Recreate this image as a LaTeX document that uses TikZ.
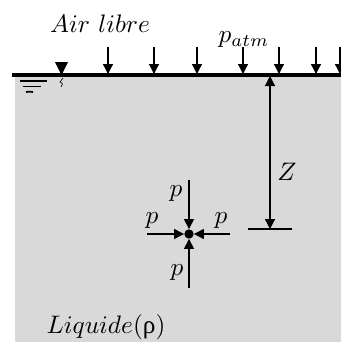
\documentclass[tikz,border=0pt]{standalone}
\usepackage{fontspec}
\newfontfamily\grk{Liberation Serif}
\usetikzlibrary{arrows.meta}
\definecolor{liq}{RGB}{217,217,217}
\tikzset{
  lbl/.style={inner sep=0pt,scale=1.9},
  force/.style={line width=1pt,-{Triangle[length=7.5pt,width=7.5pt]}},
  dim/.style={line width=1pt,{Triangle[length=7.5pt,width=7.5pt]}-{Triangle[length=7.5pt,width=7.5pt]}},
  thin line/.style={line width=1pt}
}
\begin{document}
\begin{tikzpicture}[x=0.75pt,y=-0.75pt]
\useasboundingbox (0,0) rectangle (341,343);
% liquid
\fill[liq] (15,75) rectangle (341,342);
% free surface
\coordinate (sl) at (12,75);
\coordinate (sr) at (341,75);
\draw[line width=2.4pt] (sl) -- (sr);
% atmospheric pressure arrows
\foreach \x in {108,154,197,243,279,316,340}{
  \coordinate (t\x) at (\x,47);
  \coordinate (b\x) at (\x,74);
  \draw[force] (t\x) -- (b\x);
}
% water level symbol
\fill (55,62) -- (68,62) -- (61.5,75) -- cycle;
\draw[line width=0.5pt] (63,78) -- (60,82) .. controls (63,83) and (63,85) .. (61,87);
\draw[line width=1.3pt] (20,81) -- (47,81);
\draw[line width=1.3pt] (23,86.5) -- (41,86.5);
\draw[line width=1.3pt] (26,92) .. controls (28,90) and (30,93) .. (33,92);
% labels top
\node[lbl] (air) at (100,24) {$Air\ libre$};
\node[lbl] (patm) at (244,40) {$p_{atm}$};
% depth Z
\coordinate (zt) at (270,76);
\coordinate (zb) at (270,229);
\coordinate (hl) at (248,229);
\coordinate (hr) at (292,229);
\draw[dim] (zt) -- (zb);
\draw[thin line] (hl) -- (hr);
\node[lbl] (Z) at (287,172) {$Z$};
% point with pressures
\node[circle,fill,inner sep=0pt,minimum size=7pt] (O) at (189,234) {};
\coordinate (pt) at (189,180);
\coordinate (pb) at (189,288);
\coordinate (pl) at (147,234);
\coordinate (pr) at (230,234);
\draw[force] (pt) -- (O.north);
\draw[force] (pb) -- (O.south);
\draw[force] (pl) -- (O.west);
\draw[force] (pr) -- (O.east);
\node[lbl] (p1) at (176,194) {$p$};
\node[lbl] (p2) at (152,221) {$p$};
\node[lbl] (p3) at (221,221) {$p$};
\node[lbl] (p4) at (177,273) {$p$};
% liquid label
\node[lbl] (liqlabel) at (106,327) {$Liquide$({\grk ρ})};
\end{tikzpicture}
\end{document}
